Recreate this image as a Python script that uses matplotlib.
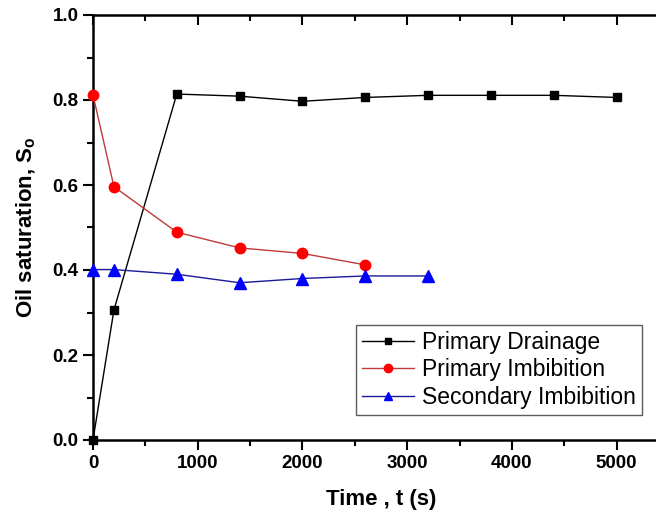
import matplotlib
matplotlib.use('Agg')
import matplotlib.pyplot as plt
from matplotlib.ticker import MultipleLocator

plt.rcParams['font.family'] = ['Liberation Sans', 'DejaVu Sans']
plt.rcParams['mathtext.fontset'] = 'custom'
plt.rcParams['mathtext.rm'] = 'Liberation Sans'

# data
t_drain = [0, 200, 800, 1400, 2000, 2600, 3200, 3800, 4400, 5000]
so_drain = [0.0, 0.306, 0.814, 0.809, 0.797, 0.806, 0.811, 0.811, 0.811, 0.806]

t_imb1 = [0, 200, 800, 1400, 2000, 2600]
so_imb1 = [0.812, 0.596, 0.489, 0.452, 0.439, 0.412]

t_imb2 = [0, 200, 800, 1400, 2000, 2600, 3200]
so_imb2 = [0.401, 0.401, 0.390, 0.370, 0.380, 0.386, 0.386]

fig = plt.figure(figsize=(6.56, 5.12), dpi=100)
# right end of the axes runs a little past the picture edge, as in the original
ax = fig.add_axes([93 / 656, 72 / 512, 576 / 656, 425 / 512])

ax.plot(t_drain, so_drain, color='black', lw=1, marker='s', ms=6,
        label='Primary Drainage', clip_on=False, zorder=3)
ax.plot(t_imb1, so_imb1, color='#c03a3a', lw=1, marker='o', ms=7.5,
        mfc='red', mec='red', label='Primary Imbibition', clip_on=False, zorder=3)
ax.plot(t_imb2, so_imb2, color='#1a1a9a', lw=1, marker='^', ms=8,
        mfc='blue', mec='blue', label='Secondary Imbibition', clip_on=False, zorder=3)

ax.set_xlim(0, 5500)
ax.set_ylim(0, 1.0)
ax.xaxis.set_major_locator(MultipleLocator(1000))
ax.xaxis.set_minor_locator(MultipleLocator(500))
ax.yaxis.set_major_locator(MultipleLocator(0.2))
ax.yaxis.set_minor_locator(MultipleLocator(0.1))
ax.yaxis.set_major_formatter(plt.FormatStrFormatter('%.1f'))

for s in ax.spines.values():
    s.set_linewidth(1.8)
ax.spines['right'].set_visible(False)

ax.tick_params(which='both', direction='out', width=1.5, labelsize=13.5)
ax.tick_params(which='major', length=7)
ax.tick_params(which='minor', length=4)
ax.tick_params(axis='x', which='both', top=True, pad=4)
for lab in ax.get_xticklabels() + ax.get_yticklabels():
    lab.set_fontweight('bold')

# top ticks point into the plot
for tk in ax.xaxis.get_major_ticks() + ax.xaxis.get_minor_ticks():
    tk.tick2line.set_marker(3)

ax.set_xlabel('Time , t (s)', fontsize=16, fontweight='bold')
ax.set_ylabel(r'Oil saturation, S$_\mathregular{o}$', fontsize=16, fontweight='bold')
ax.xaxis.set_label_coords(0.5, -0.115)
ax.yaxis.set_label_coords(-0.095, 0.5)

leg = ax.legend(loc='upper left', bbox_to_anchor=(0.4566, 0.2706), borderaxespad=0,
                fontsize=16.5, frameon=True, fancybox=False, edgecolor='#333333',
                handlelength=2.3, handletextpad=0.35, labelspacing=0.2,
                borderpad=0.25, markerscale=0.8)
leg.get_frame().set_linewidth(1.0)

fig.savefig('out.png', dpi=100)
